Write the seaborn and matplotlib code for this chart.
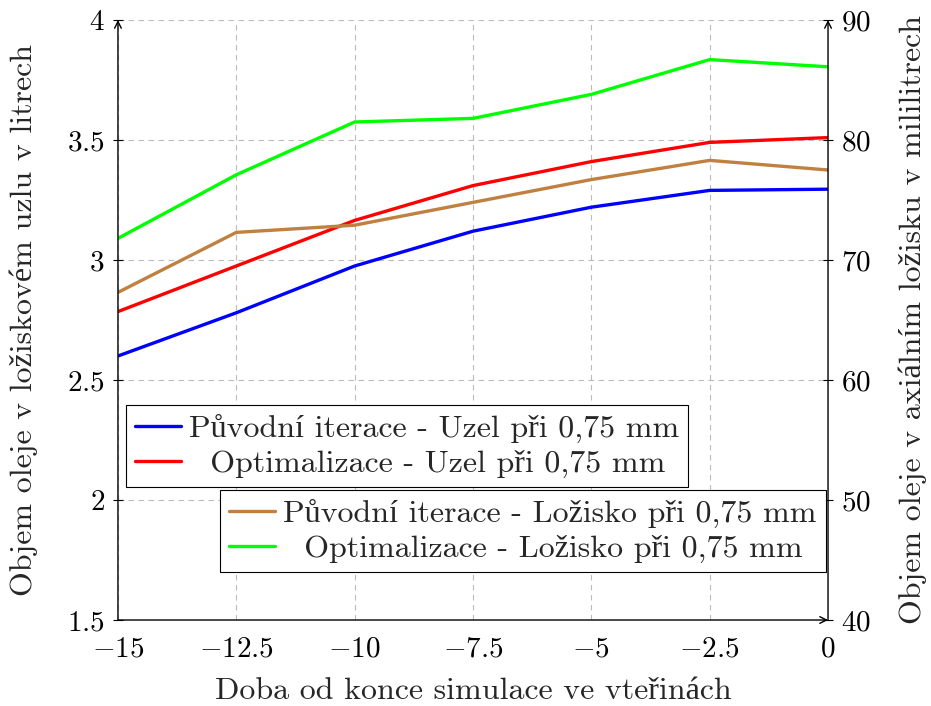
import numpy as np
import pandas as pd
import matplotlib
matplotlib.use("Agg")
import matplotlib.pyplot as plt
from matplotlib.ticker import FixedLocator, FuncFormatter
import seaborn as sns

# time before end of simulation [s]
time_s = [-15, -12.5, -10, -7.5, -5, -2.5, 0]

# oil volume in bearing node [l] (left axis)
uzel_puvodni = [2.60, 2.78, 2.975, 3.12, 3.22, 3.29, 3.295]
uzel_optim = [2.785, 2.975, 3.165, 3.31, 3.41, 3.49, 3.51]

# oil volume in axial bearing [ml] (right axis)
lozisko_puvodni = [67.3, 72.3, 72.9, 74.8, 76.7, 78.3, 77.5]
lozisko_optim = [71.8, 77.1, 81.5, 81.8, 83.8, 86.7, 86.1]

labels_left = ["Původní iterace - Uzel při 0,75 mm", "  Optimalizace - Uzel při 0,75 mm"]
labels_right = ["Původní iterace - Ložisko při 0,75 mm", "  Optimalizace - Ložisko při 0,75 mm"]
colors_left = ["#0000ff", "#ff0000"]
colors_right = ["#bf8040", "#00ff00"]

sns.set_style("white")
plt.rcParams["font.family"] = ["cmr10", "Liberation Serif"]
plt.rcParams["mathtext.fontset"] = "cm"
plt.rcParams["axes.unicode_minus"] = False
plt.rcParams["axes.formatter.use_mathtext"] = True

df_left = pd.DataFrame({
    "t": time_s * 2,
    "v": uzel_puvodni + uzel_optim,
    "serie": [labels_left[0]] * len(time_s) + [labels_left[1]] * len(time_s),
})
df_right = pd.DataFrame({
    "t": time_s * 2,
    "v": lozisko_puvodni + lozisko_optim,
    "serie": [labels_right[0]] * len(time_s) + [labels_right[1]] * len(time_s),
})

fig = plt.figure(figsize=(9.31, 7.06), dpi=100)
ax = fig.add_axes([0.1267, 0.1218, 0.7627, 0.8499])
ax2 = ax.twinx()

sns.lineplot(data=df_left, x="t", y="v", hue="serie", palette=colors_left,
             linewidth=2.4, ax=ax, legend=False)
sns.lineplot(data=df_right, x="t", y="v", hue="serie", palette=colors_right,
             linewidth=2.4, ax=ax2, legend=False)

ax.set_xlim(-15, 0)
ax.set_ylim(1.5, 4)
ax2.set_ylim(40, 90)

fmt = FuncFormatter(lambda v, p: f"${v:g}$")
ax.xaxis.set_major_locator(FixedLocator(time_s))
ax.yaxis.set_major_locator(FixedLocator([1.5, 2, 2.5, 3, 3.5, 4]))
ax2.yaxis.set_major_locator(FixedLocator([40, 50, 60, 70, 80, 90]))
for a in (ax.xaxis, ax.yaxis, ax2.yaxis):
    a.set_major_formatter(fmt)

ax.grid(True, color="#bbbbbb", linestyle=(0, (5, 4)), linewidth=0.8)
ax2.grid(False)
for a in (ax, ax2):
    a.tick_params(direction="inout", length=7, width=0.8, colors="black",
                  labelsize=21, pad=6)
    for s in a.spines.values():
        s.set_visible(False)
ax.tick_params(axis="x", pad=8)

ax.set_xlabel("Doba od konce simulace ve vteřinách", fontsize=23, labelpad=11)
ax.set_ylabel("Objem oleje v ložiskovém uzlu v litrech", fontsize=23)
ax2.set_ylabel("Objem oleje v axiálním ložisku v mililitrech", fontsize=23)
ax.yaxis.set_label_coords(-0.113, 0.5)
ax2.yaxis.set_label_coords(1.099, 0.5)

# pgfplots-like axis lines with arrow tips
arrow = dict(arrowstyle="->", lw=1.0, color="black", shrinkA=0, shrinkB=0,
             mutation_scale=12)
for start, end in [((0, 0), (1, 0)), ((0, 0), (0, 1)), ((1, 0), (1, 1))]:
    ax2.annotate("", xy=end, xytext=start, xycoords="axes fraction",
                 textcoords="axes fraction", arrowprops=arrow, annotation_clip=False)

leg_style = dict(fontsize=23, frameon=True, fancybox=False, framealpha=1,
                 edgecolor="black", handlelength=1.45, handletextpad=0.25,
                 borderpad=0.28, labelspacing=0.2, borderaxespad=0)
leg1 = ax2.legend(ax.get_lines()[:2], labels_left, loc="upper left",
                  bbox_to_anchor=(0.0113, 0.358), **leg_style)
leg1.get_frame().set_linewidth(0.8)
ax2.add_artist(leg1)
leg2 = ax2.legend(ax2.get_lines()[:2], labels_right, loc="upper right",
                  bbox_to_anchor=(0.997, 0.2167), **leg_style)
leg2.get_frame().set_linewidth(0.8)

fig.savefig("out.png", dpi=100)
